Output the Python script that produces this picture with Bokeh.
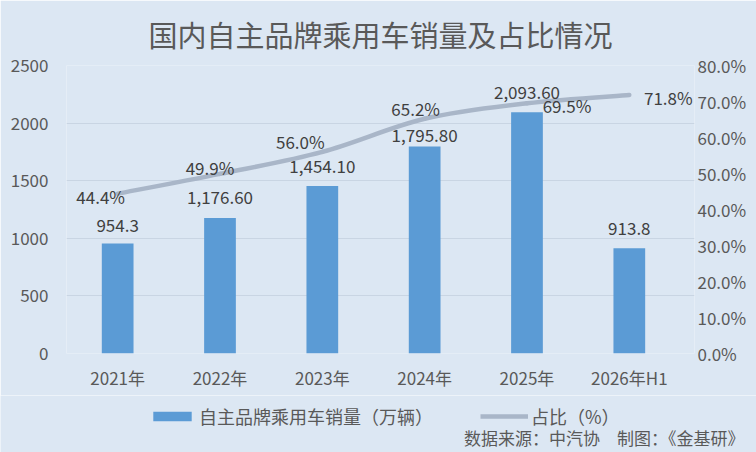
from bokeh.plotting import figure
from bokeh.layouts import column
from bokeh.models import (Range1d, LinearAxis, FixedTicker, PrintfTickFormatter,
                          Legend, LegendItem, Label, Title, ColumnDataSource)
from bokeh.core.properties import value
from bokeh.embed import file_html
from bokeh.resources import INLINE

categories = ["2021年", "2022年", "2023年", "2024年", "2025年", "2026年H1"]
sales = [954.3, 1176.6, 1454.1, 1795.8, 2093.6, 913.8]
sales_labels = ["954.3", "1,176.60", "1,454.10", "1,795.80", "2,093.60", "913.8"]
share = [44.4, 49.9, 56.0, 65.2, 69.5, 71.8]
share_labels = ["44.4%", "49.9%", "56.0%", "65.2%", "69.5%", "71.8%"]
left_ticks = [0, 500, 1000, 1500, 2000, 2500]
right_ticks = [0, 10, 20, 30, 40, 50, 60, 70, 80]
series_names = ["自主品牌乘用车销量（万辆）", "占比（%）"]
title_text = "国内自主品牌乘用车销量及占比情况"
source_text = "数据来源：中汽协　制图：《金基研》"

# label placement (styles, px; positive y = down)
sales_dy = [-18, -20, -19, -11, -20, -20]
share_dx = [-17, -10, -22, -9, 40, 39]
share_dy = [3, -6, -10, -10, 2, 2]

FONT = "Noto Sans CJK SC"
BG = "#dce7f3"
BAR = "#5b9bd5"
LINE = "#a9b6c8"
TXT = "#595959"
LBL = "#404040"

xs = list(range(len(categories)))

p = figure(width=756, height=395, output_backend="svg", toolbar_location=None, title=None,
           x_range=Range1d(-0.5, len(categories) - 0.5 + 0.137), y_range=Range1d(0, 2500),
           min_border_left=66, min_border_right=62, min_border_top=65, min_border_bottom=42)
p.extra_y_ranges = {"pct": Range1d(0, 80)}
p.background_fill_color = BG
p.border_fill_color = BG
p.outline_line_color = None

# small spacer nearest the frame lifts the title a little
p.add_layout(Title(text=" ", text_font_size="1px", standoff=3), "above")
p.add_layout(Title(text=title_text, align="center", offset=-6, text_font=FONT,
                   text_font_size="29px", text_font_style="normal", text_color=TXT,
                   standoff=10), "above")

src = ColumnDataSource(dict(x=xs, sales=sales, sl=sales_labels, sdy=sales_dy,
                            share=share, pl=share_labels, pdx=share_dx, pdy=share_dy))

p.vbar(x="x", top="sales", width=0.31, source=src, fill_color=BAR, line_color=None)

# smooth line (Catmull-Rom bezier through the data points)
n = len(share)
x0, y0, x1, y1, cx0, cy0, cx1, cy1 = [], [], [], [], [], [], [], []
for i in range(n - 1):
    xm, ym = xs[max(i - 1, 0)], share[max(i - 1, 0)]
    xa, ya = xs[i], share[i]
    xb, yb = xs[i + 1], share[i + 1]
    xp, yp = xs[min(i + 2, n - 1)], share[min(i + 2, n - 1)]
    x0.append(xa); y0.append(ya); x1.append(xb); y1.append(yb)
    cx0.append(xa + (xb - xm) / 6); cy0.append(ya + (yb - ym) / 6)
    cx1.append(xb - (xp - xa) / 6); cy1.append(yb - (yp - ya) / 6)
p.bezier(x0=x0, y0=y0, x1=x1, y1=y1, cx0=cx0, cy0=cy0, cx1=cx1, cy1=cy1,
         line_color=LINE, line_width=4.5, line_cap="round", y_range_name="pct")

p.text(x="x", y="sales", text="sl", source=src, y_offset="sdy", text_align="center",
       text_baseline="middle", text_font=value(FONT), text_font_size="17px", text_color=LBL)
p.text(x="x", y="share", text="pl", source=src, x_offset="pdx", y_offset="pdy",
       y_range_name="pct", text_align="center", text_baseline="middle",
       text_font=value(FONT), text_font_size="17px", text_color=LBL)

# axes
p.xaxis.ticker = FixedTicker(ticks=xs)
p.xaxis.major_label_overrides = {i: c for i, c in zip(xs, categories)}
p.yaxis.ticker = FixedTicker(ticks=left_ticks)
ra = LinearAxis(y_range_name="pct", ticker=FixedTicker(ticks=right_ticks),
                formatter=PrintfTickFormatter(format="%.1f%%"))
p.add_layout(ra, "right")
for ax in [p.xaxis[0], p.yaxis[0], ra]:
    ax.axis_line_color = None
    ax.major_tick_line_color = None
    ax.minor_tick_line_color = None
    ax.major_tick_out = 0
    ax.major_tick_in = 0
    ax.minor_tick_out = 0
    ax.major_label_text_font = FONT
    ax.major_label_text_font_size = "17px"
    ax.major_label_text_color = TXT
p.xaxis.major_label_standoff = 11
p.yaxis[0].major_label_standoff = 18
ra.major_label_standoff = 3

p.xgrid.grid_line_color = None
p.ygrid.grid_line_color = "#c9d5e3"
p.ygrid.grid_line_width = 1
p.ygrid.ticker = FixedTicker(ticks=left_ticks)

# footer strip: legend and source note
f = figure(width=756, height=57, output_backend="svg", toolbar_location=None,
           x_range=Range1d(0, 756), y_range=Range1d(0, 57),
           x_axis_location=None, y_axis_location=None, frame_align=False,
           min_border_left=0, min_border_right=0, min_border_top=0, min_border_bottom=0)
f.background_fill_color = BG
f.border_fill_color = BG
f.outline_line_color = None
f.xgrid.visible = False
f.ygrid.visible = False
nan = float("nan")
key_bar = f.vbar(x=[nan], top=[nan], width=1, fill_color=BAR, line_color=None)
key_line = f.line(x=[nan], y=[nan], line_color=LINE, line_width=4.5)

legend = Legend(items=[LegendItem(label=series_names[0], renderers=[key_bar]),
                       LegendItem(label=series_names[1], renderers=[key_line])],
                orientation="horizontal", location=(148, 23),
                glyph_width=48, glyph_height=12, label_standoff=3, spacing=47,
                padding=0, margin=0, border_line_color=None, background_fill_alpha=0,
                label_text_font=FONT, label_text_font_size="18px", label_text_color=TXT)
f.add_layout(legend, "center")
f.add_layout(Label(x=744, y=15, text=source_text, text_align="right",
                   text_baseline="middle", text_font=FONT, text_font_size="17px",
                   text_color=TXT))

open("out.html", "w").write(file_html(column(p, f, spacing=0), INLINE))
